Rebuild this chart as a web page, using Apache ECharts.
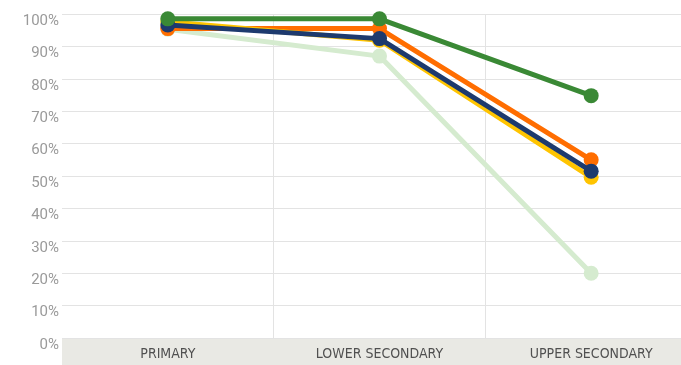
<!DOCTYPE html>
<html>
<head>
<meta charset="utf-8">
<script src="https://cdn.jsdelivr.net/npm/echarts@6/dist/echarts.min.js"></script>
<style>
  html, body { margin: 0; padding: 0; background: #fff; }
  #chart { width: 681px; height: 365px; }
</style>
</head>
<body>
<div id="chart"></div>
<script>
// School levels along the x axis
const levels = ['PRIMARY', 'LOWER SECONDARY', 'UPPER SECONDARY'];

// Completion rates (%) per group, one array per line
const lightGreenVals = [95.3, 87, 20];
const navyVals = [96.6, 92.4, 51.5];
const yellowVals = [97.6, 91.9, 49.6];
const orangeVals = [95.5, 95.5, 55];
const greenVals = [98.5, 98.5, 74.8];

// Y-axis ticks
const yTicks = { min: 0, max: 100, step: 10 };

const lines = [
  { values: lightGreenVals, color: '#d5ebcf' },
  { values: orangeVals, color: '#ff6d00' },
  { values: yellowVals, color: '#ffc400' },
  { values: navyVals, color: '#1d3a6e' },
  { values: greenVals, color: '#3a8935' }
];

const chart = echarts.init(document.getElementById('chart'), null, { renderer: 'canvas' });

chart.setOption({
  animation: false,
  backgroundColor: '#ffffff',
  grid: { left: 62, width: 635, top: 14, height: 324, containLabel: false, outerBoundsMode: 'none' },
  graphic: [{
    type: 'rect',
    left: 62, top: 338, z: -10,
    shape: { width: 619, height: 27 },
    style: { fill: '#e9e9e4' }
  }],
  xAxis: {
    type: 'category',
    data: levels,
    boundaryGap: true,
    axisLine: { show: false },
    axisTick: { show: false },
    axisLabel: {
      margin: 9,
      color: '#505050',
      fontSize: 14,
      fontFamily: '"DejaVu Sans Condensed", "Liberation Sans Narrow", Roboto, sans-serif'
    },
    splitLine: { show: true, showMinLine: false, lineStyle: { color: '#e3e3e3', width: 1 } }
  },
  yAxis: {
    type: 'value',
    min: yTicks.min, max: yTicks.max, interval: yTicks.step,
    axisLine: { show: false },
    axisTick: { show: false },
    axisLabel: {
      formatter: '{value}%',
      margin: 3,
      color: '#9a9a9a',
      fontSize: 15,
      verticalAlign: 'top',
      lineHeight: 14,
      fontFamily: 'Roboto, "Liberation Sans", sans-serif'
    },
    splitLine: { show: true, lineStyle: { color: '#e3e3e3', width: 1 } }
  },
  series: lines.map((l, i) => ({
    type: 'line',
    data: l.values,
    z: 2 + i,
    symbol: 'circle',
    symbolSize: 15,
    showAllSymbol: true,
    lineStyle: { color: l.color, width: 5 },
    itemStyle: { color: l.color, borderWidth: 0 },
    emphasis: { disabled: true }
  }))
});
</script>
</body>
</html>
